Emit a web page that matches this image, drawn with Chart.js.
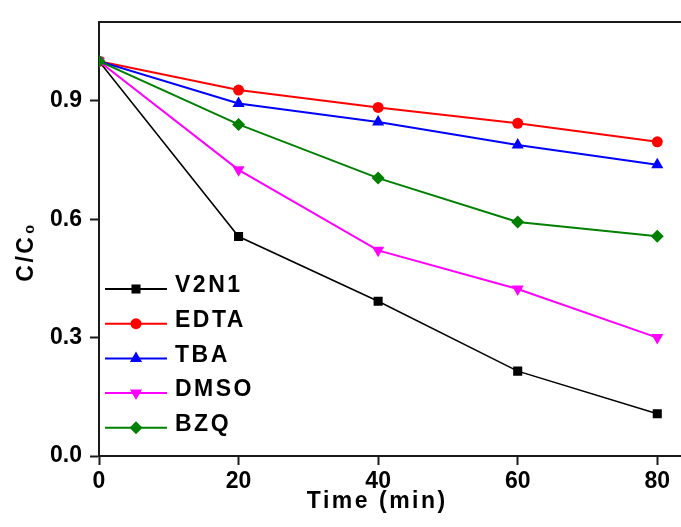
<!DOCTYPE html>
<html lang="en">
<head>
    <meta charset="UTF-8">
    <title>C/C0 vs time</title>
    <script src="https://cdn.jsdelivr.net/npm/chart.js"></script>
    <style>
        html, body { margin: 0; padding: 0; background: #fff; }
        canvas { display: block; }
    </style>
</head>
<body>
    <canvas id="decayChart" width="681" height="527"></canvas>

    <script>
        // Time points (min) and C/C0 for each scavenger run
        var times = [0, 20, 40, 60, 80];
        var v2n1 = [1.0, 0.556, 0.392, 0.215, 0.107];
        var edta = [1.0, 0.927, 0.883, 0.843, 0.796];
        var tba  = [1.0, 0.893, 0.846, 0.788, 0.738];
        var dmso = [1.0, 0.725, 0.521, 0.423, 0.300];
        var bzq  = [1.0, 0.840, 0.704, 0.593, 0.557];

        var xTicks = [0, 20, 40, 60, 80];
        var yTicks = [0, 0.3, 0.6, 0.9];

        var FONT = '"Liberation Sans", Arial, Helvetica, sans-serif';
        var AXIS = '#1a1a1a';

        function series(label, values, color, style, radius, rotation, width, order) {
            return {
                label: label,
                data: times.map(function (t, i) { return { x: t, y: values[i] }; }),
                borderColor: color,
                backgroundColor: color,
                borderWidth: width,
                pointStyle: style,
                pointRadius: radius,
                pointHoverRadius: radius,
                pointRotation: rotation,
                pointBackgroundColor: color,
                pointBorderColor: color,
                pointBorderWidth: 0,
                tension: 0,
                clip: 0,
                order: order
            };
        }

        // legend box inside the plot, bottom-left
        var insetLegend = {
            id: 'insetLegend',
            afterDatasetsDraw: function (chart) {
                var ctx = chart.ctx;
                var area = chart.chartArea;
                var x0 = area.left + 6;
                ctx.save();
                ctx.font = 'bold 23px ' + FONT;
                ctx.letterSpacing = '2.5px';
                ctx.textBaseline = 'middle';
                ctx.textAlign = 'left';
                chart.data.datasets.forEach(function (ds, i) {
                    var y = area.bottom - 167 + i * 34.7;
                    ctx.strokeStyle = ds.borderColor;
                    ctx.lineWidth = 2;
                    ctx.beginPath();
                    ctx.moveTo(x0, y);
                    ctx.lineTo(x0 + 62, y);
                    ctx.stroke();
                    ctx.fillStyle = ds.pointBackgroundColor;
                    ctx.strokeStyle = ds.pointBorderColor;
                    if (Chart.helpers && Chart.helpers.drawPoint) {
                        Chart.helpers.drawPoint(ctx, {
                            pointStyle: ds.pointStyle,
                            radius: ds.pointRadius,
                            rotation: ds.pointRotation,
                            borderWidth: 0
                        }, x0 + 31, y);
                    }
                    ctx.fillStyle = '#000';
                    ctx.fillText(ds.label, x0 + 70, y - 3);
                });
                ctx.restore();
            }
        };

        // wide letter spacing for the axis titles only (tick labels are drawn later, z: 1)
        var titleSpacing = {
            id: 'titleSpacing',
            beforeDraw: function (chart) { chart.ctx.letterSpacing = '2.5px'; },
            beforeDatasetsDraw: function (chart) { chart.ctx.letterSpacing = '0px'; }
        };

        Chart.defaults.font.family = FONT;
        Chart.defaults.font.weight = 'bold';
        Chart.defaults.color = '#000';

        var ctx = document.getElementById('decayChart').getContext('2d');
        var decayChart = new Chart(ctx, {
            type: 'line',
            data: {
                datasets: [
                    series('V2N1', v2n1, '#000000', 'rect', 6.4, 0, 1.5, 5),
                    series('EDTA', edta, '#ff0000', 'circle', 5.5, 0, 2, 4),
                    series('TBA', tba, '#0000ff', 'triangle', 7, 0, 2, 3),
                    series('DMSO', dmso, '#ff00ff', 'triangle', 7, 180, 2, 2),
                    series('BZQ', bzq, '#008000', 'rectRot', 6.5, 0, 2, 1)
                ]
            },
            options: {
                responsive: false,
                animation: false,
                // frame runs on past the right edge of the canvas
                layout: { autoPadding: false, padding: { top: 17, left: 0, right: 0, bottom: 0 } },
                plugins: {
                    legend: { display: false },
                    tooltip: { enabled: false }
                },
                scales: {
                    x: {
                        type: 'linear',
                        position: 'bottom',
                        min: 0,
                        max: 83.4,
                        afterBuildTicks: function (scale) {
                            scale.ticks = xTicks.map(function (v) { return { value: v }; });
                        },
                        afterFit: function (scale) { scale.height = 71; },
                        grid: {
                            drawOnChartArea: false,
                            drawTicks: true,
                            tickLength: 9,
                            tickWidth: 2,
                            tickColor: AXIS
                        },
                        border: { display: true, color: AXIS, width: 2 },
                        ticks: {
                            z: 1,
                            padding: 3,
                            maxRotation: 0,
                            font: { size: 23, weight: 'bold' },
                            callback: function (v) { return v; }
                        },
                        title: {
                            display: true,
                            text: 'Time (min)\u2003',
                            font: { size: 23, weight: 'bold' },
                            padding: { top: 0, bottom: 12 }
                        }
                    },
                    xTop: {
                        type: 'linear',
                        position: 'top',
                        min: 0,
                        max: 1,
                        afterFit: function (scale) { scale.height = 0; },
                        grid: { display: false, drawTicks: false },
                        border: { display: true, color: AXIS, width: 2 },
                        ticks: { display: false }
                    },
                    y: {
                        type: 'linear',
                        position: 'left',
                        min: 0,
                        max: 1.1,
                        afterBuildTicks: function (scale) {
                            scale.ticks = yTicks.map(function (v) { return { value: v }; });
                        },
                        afterFit: function (scale) { scale.width = 99; },
                        grid: {
                            drawOnChartArea: false,
                            drawTicks: true,
                            tickLength: 9,
                            tickWidth: 2,
                            tickColor: AXIS
                        },
                        border: { display: true, color: AXIS, width: 2 },
                        ticks: {
                            z: 1,
                            padding: 8,
                            font: { size: 23, weight: 'bold' },
                            callback: function (v) { return v.toFixed(1); }
                        },
                        title: {
                            display: true,
                            text: 'C/C\u2080\u2003',
                            font: { size: 23, weight: 'bold' },
                            padding: { top: 13, bottom: 0 }
                        }
                    }
                }
            },
            plugins: [titleSpacing, insetLegend]
        });
    </script>
</body>
</html>
